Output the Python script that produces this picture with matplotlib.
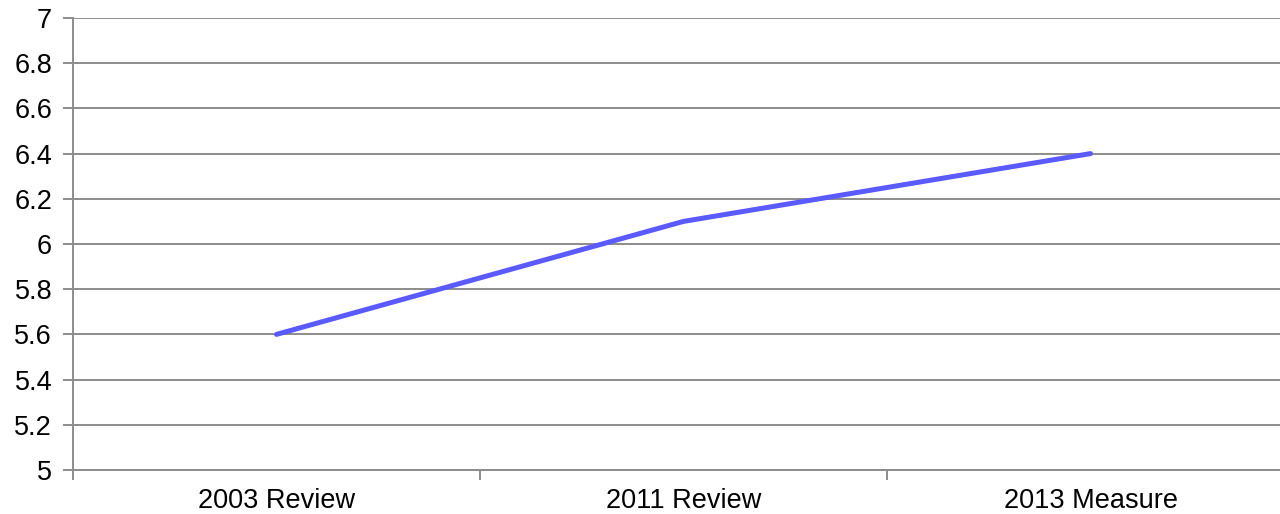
import matplotlib.pyplot as plt

categories = ['2003 Review', '2011 Review', '2013 Measure']
values = [5.6, 6.1, 6.4]

plt.rcParams['font.family'] = ['Liberation Sans', 'DejaVu Sans']

fig = plt.figure(figsize=(12.8, 5.14), dpi=100)
ax = fig.add_axes([73 / 1280, 44 / 514, 1221 / 1280, 452 / 514])

x = range(len(categories))
ax.plot(x, values, color='#5a5aff', linewidth=3.6, solid_capstyle='round')

ax.set_xlim(-0.5, len(categories) - 0.5)
ax.set_ylim(5, 7)
ax.set_yticks([5 + 0.2 * i for i in range(11)])
ax.set_yticklabels(['5', '5.2', '5.4', '5.6', '5.8', '6', '6.2', '6.4', '6.6', '6.8', '7'])
ax.yaxis.grid(True, color='#8c8c8c', linewidth=1.4)
ax.set_axisbelow(True)

ax.set_xticks(list(x))
ax.set_xticklabels(categories)
ax.set_xticks([-0.5, 0.5, 1.5], minor=True)
ax.tick_params(axis='x', which='major', length=0, pad=13, labelsize=19.5)
ax.tick_params(axis='x', which='minor', length=7, width=1.4, color='#8c8c8c')
ax.tick_params(axis='y', length=7, width=1.4, color='#8c8c8c', pad=8, labelsize=19.5)

for s in ['top', 'right']:
    ax.spines[s].set_visible(False)
ax.spines['left'].set_color('#8c8c8c')
ax.spines['left'].set_linewidth(1.4)
ax.spines['bottom'].set_color('#8c8c8c')
ax.spines['bottom'].set_linewidth(1.4)

fig.savefig('out.png', dpi=100)
